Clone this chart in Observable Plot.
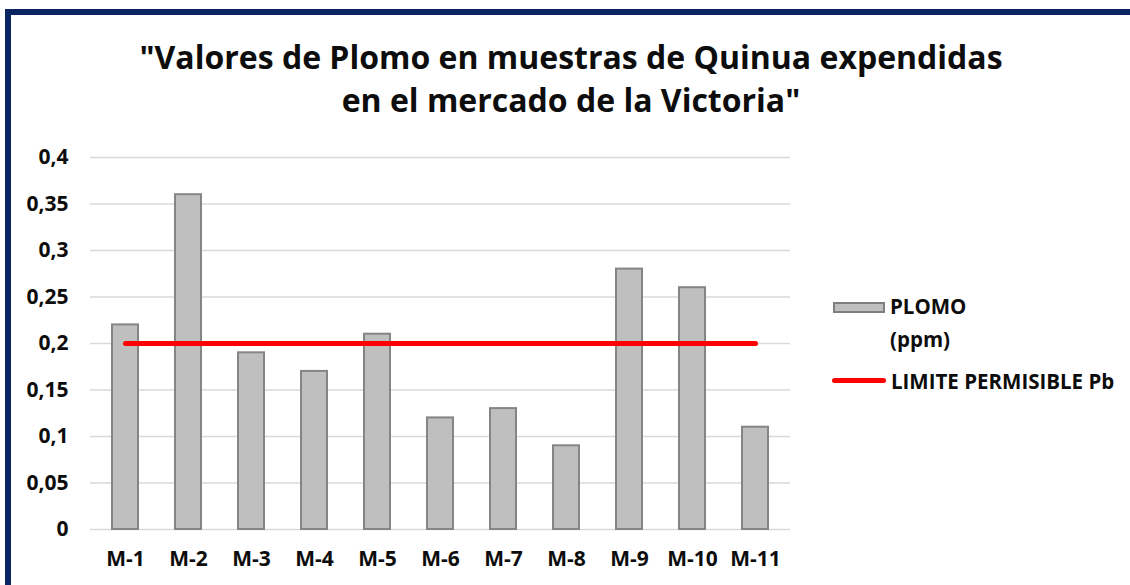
<!DOCTYPE html>
<html>
<head>
<meta charset="utf-8">
<script src="https://cdn.jsdelivr.net/npm/d3@7"></script>
<script src="https://cdn.jsdelivr.net/npm/@observablehq/plot@0.6"></script>
<style>
  html, body { margin: 0; padding: 0; background: #fff; }
  body { width: 1130px; height: 585px; position: relative; overflow: hidden; font-family: "Open Sans", sans-serif; }
  #frame { position: absolute; left: 5px; top: 9px; width: 1200px; height: 700px; border: 6px solid #0b2462; box-sizing: border-box; }
  #title { position: absolute; left: 0; top: 35px; width: 1142px; text-align: center; font-weight: 700; font-size: 32px; line-height: 43px; color: #0d0d0d; }
  #chart { position: absolute; left: 0; top: 0; }
  #chart svg [aria-label="y-axis tick label"] { font-size: 21px; font-weight: 700; }
  #chart svg [aria-label="x-axis tick label"] { font-size: 21px; font-weight: 700; }
  .leg { position: absolute; font-weight: 700; font-size: 20.5px; color: #0d0d0d; line-height: 22px; }
</style>
</head>
<body>
<div id="frame"></div>
<div id="title">"Valores de Plomo en muestras de Quinua expendidas<br>en el mercado de la Victoria"</div>
<div id="chart"></div>
<div class="leg" style="left:833px; top:302px; width:52px; height:11px; background:#bfbfbf; border:2px solid #7f7f7f; box-sizing:border-box;"></div>
<div class="leg" style="left:890px; top:295px;">PLOMO</div>
<div class="leg" style="left:890px; top:328px;">(ppm)</div>
<div class="leg" style="left:832px; top:378px; width:54px; height:5px; background:#ff0000; border-radius:2.5px;"></div>
<div class="leg" style="left:891px; top:370px;">LIMITE PERMISIBLE Pb</div>
<script>
const categories = ["M-1","M-2","M-3","M-4","M-5","M-6","M-7","M-8","M-9","M-10","M-11"];
const plomo = [0.22, 0.36, 0.19, 0.17, 0.21, 0.12, 0.13, 0.09, 0.28, 0.26, 0.11];
const limite = [0.2, 0.2, 0.2, 0.2, 0.2, 0.2, 0.2, 0.2, 0.2, 0.2, 0.2];
const yTicks = [0, 0.05, 0.1, 0.15, 0.2, 0.25, 0.3, 0.35, 0.4];
const yTickLabels = ["0", "0,05", "0,1", "0,15", "0,2", "0,25", "0,3", "0,35", "0,4"];

const rows = categories.map((c, i) => ({cat: c, plomo: plomo[i], limite: limite[i]}));

const chart = Plot.plot({
  width: 1130,
  height: 585,
  marginLeft: 90,
  marginRight: 340,
  marginTop: 157,
  marginBottom: 56,
  style: {fontFamily: "'Open Sans', sans-serif", fontSize: "21px", fontWeight: 700, color: "#0d0d0d", background: "transparent", overflow: "visible"},
  x: {domain: categories, paddingInner: 0.59, paddingOuter: 0.295, align: 0.5, label: null},
  y: {domain: [0, 0.4], label: null},
  marks: [
    Plot.gridY(yTicks, {stroke: "#d9d9d9", strokeOpacity: 1, strokeWidth: 1.5}),
    Plot.barY(rows, {x: "cat", y: "plomo", fill: "#bfbfbf", stroke: "#858585", strokeWidth: 2}),
    Plot.lineY(rows, {x: "cat", y: "limite", stroke: "#ff0000", strokeWidth: 5}),
    Plot.axisY(yTicks, {tickSize: 0, tickPadding: 22, tickFormat: (d) => yTickLabels[yTicks.indexOf(d)]}),
    Plot.axisX({tickSize: 0, tickPadding: 22})
  ]
});
document.getElementById("chart").appendChild(chart);
</script>
</body>
</html>
